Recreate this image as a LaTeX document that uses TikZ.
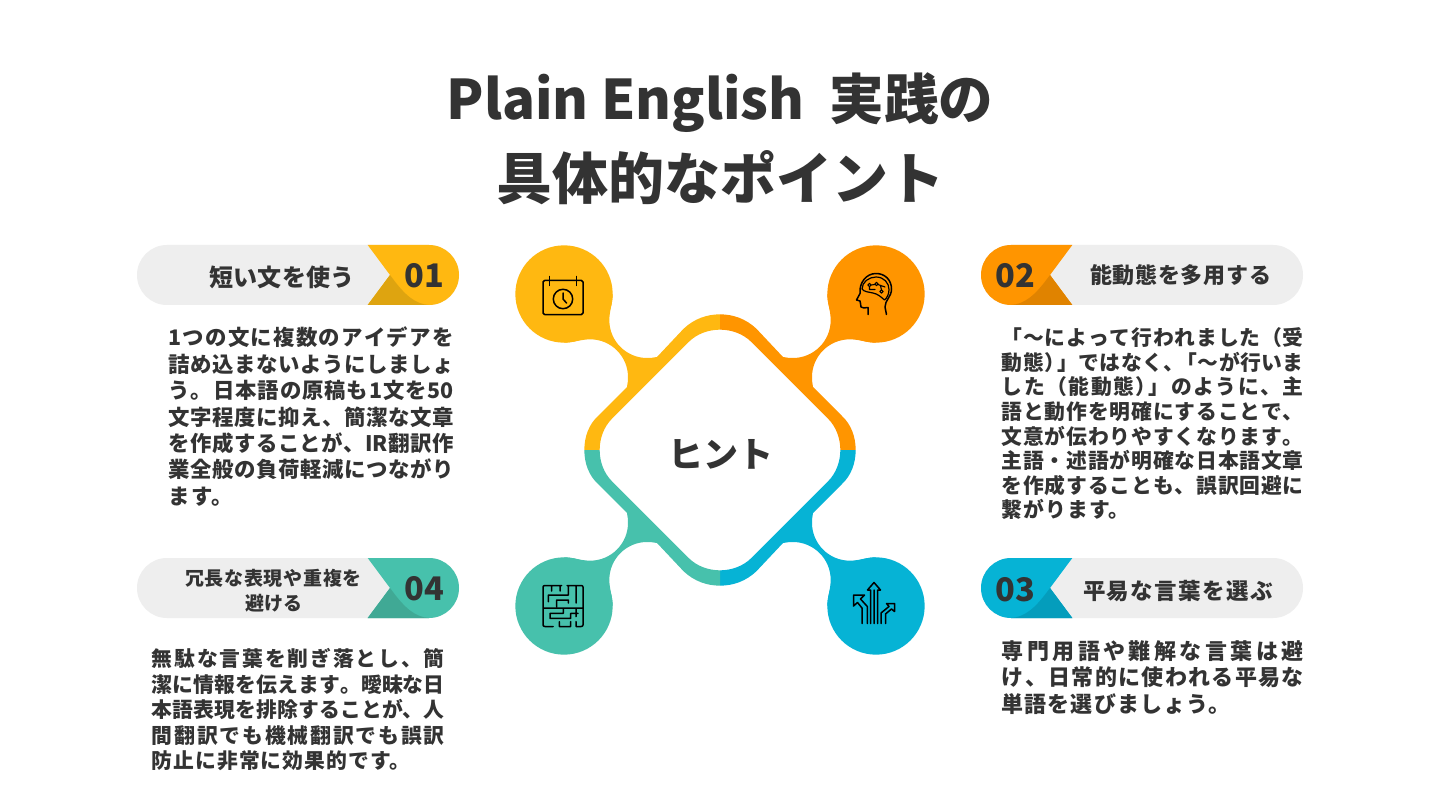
\documentclass[tikz,border=0pt]{standalone}
\usepackage{fontspec}
\setmainfont{Noto Sans CJK JP}
\definecolor{cYel}{HTML}{FFB811}
\definecolor{cOra}{HTML}{FF9500}
\definecolor{cBlu}{HTML}{06B3D5}
\definecolor{cTea}{HTML}{47C1AC}
\definecolor{fYel}{HTML}{DEA410}
\definecolor{fOra}{HTML}{E08300}
\definecolor{fBlu}{HTML}{049DBC}
\definecolor{fTea}{HTML}{40A995}
\definecolor{ink}{HTML}{333333}
\definecolor{pill}{HTML}{EEEEEE}
% spread characters of a line over a fixed width
\def\jloop#1#2\jend{#1\ifx\relax#2\relax\else\hfil\jloop#2\jend\fi}
\newcommand{\jl}[2]{\makebox[#1pt][s]{\jloop#2\jend}}
\newcommand{\lastl}[1]{{\addfontfeature{LetterSpace=5}#1}}
\newcommand{\bodyfont}[2]{\fontsize{#1}{#2}\bfseries\selectfont}
\tikzset{
 ico/.style={draw=black,line width=1.5pt,line cap=round,line join=round,fill=none},
 bodytext/.style={text=ink,anchor=north west,align=left,inner sep=0pt},
 heading/.style={text=ink,inner sep=0pt,align=center},
 numlabel/.style={text=ink,inner sep=0pt,font=\fontsize{32.5}{32}\bfseries\selectfont},
}
\newcommand{\petal}[3]{%
 \begin{scope}[shift={(720,450)},xscale=#1,yscale=#2,scale=0.33333,shift={(-659,-659)}]
 \fill[#3] (659,252) .. controls (620,252) and (582,265) .. (550,295)
   -- (470,380) .. controls (460,382) and (450,383) .. (440,383)
   .. controls (378,383) and (327,332) .. (327,270)
   .. controls (327,240) and (337,220) .. (337,191)
   -- (191,337)
   .. controls (220,337) and (240,327) .. (270,327)
   .. controls (332,327) and (383,378) .. (383,440)
   .. controls (383,450) and (382,460) .. (380,470)
   -- (295,555) .. controls (265,582) and (252,620) .. (252,659)
   -- (298,659) .. controls (298,625) and (310,590) .. (335,565)
   -- (565,335) .. controls (590,310) and (625,298) .. (659,298) -- cycle;
 \fill[#3] (191,191) circle[radius=146];
 \end{scope}}
\newcommand{\pillshape}[4]{%
 \begin{scope}[shift={(720,#2)},xscale=#1]
 \fill[pill] (-553,-30) -- (-291,-30) .. controls (-274.43,-30) and (-261,-16.57) .. (-261,0) .. controls (-261,16.57) and (-274.43,30) .. (-291,30)
   -- (-553,30) .. controls (-569.57,30) and (-583,16.57) .. (-583,0) .. controls (-583,-16.57) and (-569.57,-30) .. (-553,-30) -- cycle;
 \fill[#3] (-352.3,-30) -- (-291,-30) .. controls (-274.43,-30) and (-261,-16.57) .. (-261,0) .. controls (-261,16.57) and (-274.43,30) .. (-291,30) -- (-352.3,30) -- (-330,0) -- cycle;
 \fill[#4] (-330,0) -- (-352.3,30) -- (-291,30) .. controls (-305,29) and (-315,20) .. (-327,4) -- cycle;
 \end{scope}}
\begin{document}
\begin{tikzpicture}[x=1pt,y=-1pt]
\useasboundingbox (0,0) rectangle (1440,810);
\fill[white] (0,0) rectangle (1440,810);
% title
\node[heading,font=\fontsize{56}{80}\bfseries\selectfont] (title) at (720,138.8) {{\fontsize{54.6}{80}\selectfont Plain English\ \ 実践の}\\具体的なポイント};
% diagram
\petal{1}{1}{cYel}
\petal{-1}{1}{cOra}
\petal{-1}{-1}{cBlu}
\petal{1}{-1}{cTea}
\node[heading,font=\fontsize{35}{35}\bfseries\selectfont] (hint) at (720.5,454) {ヒント};
% pills
\pillshape{1}{275}{cYel}{fYel}
\pillshape{-1}{275}{cOra}{fOra}
\pillshape{-1}{588}{cBlu}{fBlu}
\pillshape{1}{588}{cTea}{fTea}
\node[numlabel] (n1) at (424.5,276) {01};
\node[numlabel] (n2) at (1015,276) {02};
\node[numlabel] (n3) at (1015,590) {03};
\node[numlabel] (n4) at (424.5,589) {04};
\node[heading,font=\fontsize{24}{28}\bfseries\selectfont] (h1) at (282,277.5) {\jl{146}{短い文を使う}};
\node[heading,font=\fontsize{22}{26}\bfseries\selectfont] (h2) at (1180.5,275.5) {\jl{181}{能動態を多用する}};
\node[heading,font=\fontsize{22.5}{26}\bfseries\selectfont] (h3) at (1178,591) {\jl{190}{平易な言葉を選ぶ}};
\node[heading,font=\fontsize{19}{25}\bfseries\selectfont] (h4) at (273.5,590.5) {\jl{177}{冗長な表現や重複を}\\避ける};
% body
\node[bodytext,font=\bodyfont{21.4}{26.4}] (b1) at (168.5,327) {\jl{285}{1つの文に複数のアイデアを}\\\jl{285}{詰め込まないようにしましょ}\\\jl{285}{う。日本語の原稿も1文を{50}{}}\\\jl{285}{文字程度に抑え、簡潔な文章}\\\jl{285}{を作成することが、{IR}翻訳作}\\\jl{285}{業全般の負荷軽減につながり}\\\lastl{ます。}};
\node[bodytext,font=\bodyfont{20.8}{24.6}] (b2) at (1001.5,327.5) {\jl{302}{「～によって行われました（受}\\\jl{302}{動態{）\kern-8pt」}ではなく{、\kern-8pt「}～が行いま}\\\jl{302}{した（能動態{）\kern-8pt」}のように、主}\\\jl{302}{語と動作を明確にすることで、}\\\jl{302}{文意が伝わりやすくなります。}\\\jl{302}{主語・述語が明確な日本語文章}\\\jl{302}{を作成することも、誤訳回避に}\\\lastl{繋がります。}};
\node[bodytext,font=\bodyfont{22}{26.6}] (b3) at (1001.5,640) {\jl{302}{専門用語や難解な言葉は避}\\\jl{302}{け、日常的に使われる平易な}\\\lastl{単語を選びましょう。}};
\node[bodytext,font=\bodyfont{20.8}{25.4}] (b4) at (151.5,648.5) {\jl{293}{無駄な言葉を削ぎ落とし、簡}\\\jl{293}{潔に情報を伝えます。曖昧な日}\\\jl{293}{本語表現を排除することが、人}\\\jl{293}{間翻訳でも機械翻訳でも誤訳}\\\lastl{防止に非常に効果的です。}};
% calendar icon
\draw[ico,rounded corners=1.5pt] (543,280.5) rectangle (583,314.5);
\draw[ico] (549.5,276.5) -- (549.5,285.5);
\draw[ico] (576.5,276.5) -- (576.5,285.5);
\draw[ico] (563,299) circle[radius=9.7];
\draw[ico] (563,293) -- (563,299) -- (566.5,303);
% head icon
\draw[ico] (868,314.5) -- (868,307.5) .. controls (864,308) and (862,308) .. (861,307)
  .. controls (860,305) and (861,302) .. (860,301) -- (856.5,300) -- (860,293.5)
  .. controls (859,283) and (866,273.5) .. (876,273.5)
  .. controls (885,273.5) and (891.5,280) .. (891.5,289)
  .. controls (891.5,297) and (885,300) .. (885,307) -- (886.5,314.5);
\draw[ico,line width=1.2pt] (862,289) .. controls (862,282) and (869,277) .. (876,277)
  .. controls (884,277) and (889,283) .. (889,289.5) .. controls (889,294) and (887,298) .. (884.5,300)
  .. controls (881,297) and (878,294) .. (873,293) .. controls (869,292) and (864,292) .. (862,289);
\draw[ico,line width=1.1pt] (869.5,285) circle[radius=1.7] (876.5,284) circle[radius=1.7] (881.5,291.5) circle[radius=1.7]
  (871.2,285) -- (874.8,284.5) (878,284.5) -- (885,287) (869.5,286.7) -- (869.5,289.5) -- (875,289.5) (880.5,286) -- (881.5,289.8);
% maze icon
\draw[ico] (543,606) -- (543,587) .. controls (543,586) and (544,585.5) .. (545,585.5) -- (561.5,585.5)
 (567,585.5) -- (581,585.5) .. controls (582,585.5) and (583,586) .. (583,587) -- (583,625)
 .. controls (583,626) and (582,626.5) .. (581,626.5) -- (576,626.5) -- (576,621.7)
 (570.7,621.7) -- (570.7,626.5) -- (559.3,626.5) -- (559.3,621.7) (553,626.5) -- (545,626.5) .. controls (544,626.5) and (543,626) .. (543,625) -- (543,606)
 (543,608) -- (583,608)
 (551.7,586) -- (551.7,591) (560,586) -- (560,591)
 (548.3,601.7) -- (548.3,595) -- (568.3,595) -- (568.3,586.7)
 (556.7,606.7) -- (556.7,600) -- (568.3,600) -- (568.3,603)
 (576,586.7) -- (576,603)
 (550,618.3) -- (550,613.3) -- (563.3,613.3) -- (563.3,608.5)
 (550,618.3) -- (570.7,618.3) -- (570.7,613.3) -- (578,613.3)
 (576,609) -- (576,616.7);
% arrows icon
\draw[ico] (853.5,606) -- (853.5,595) -- (864.5,595) -- (860.5,599) -- (867.3,606.5) -- (867.3,623.5)
 (853.5,606) -- (857.5,602.5) -- (862,608) -- (862,623.5);
\draw[ico] (870.5,623.5) -- (870.5,590) -- (867.5,590) -- (874,582.5) -- (880.5,590) -- (877.7,590) -- (877.7,623.5)
 (874,590) -- (874,623.5);
\draw[ico] (881,623.5) -- (881,613) -- (889,606.5) -- (886.5,603.5) -- (894.5,603.5) -- (894.5,611.5) -- (891.5,609) -- (885.5,614) -- (885.5,623.5);
\end{tikzpicture}
\end{document}
